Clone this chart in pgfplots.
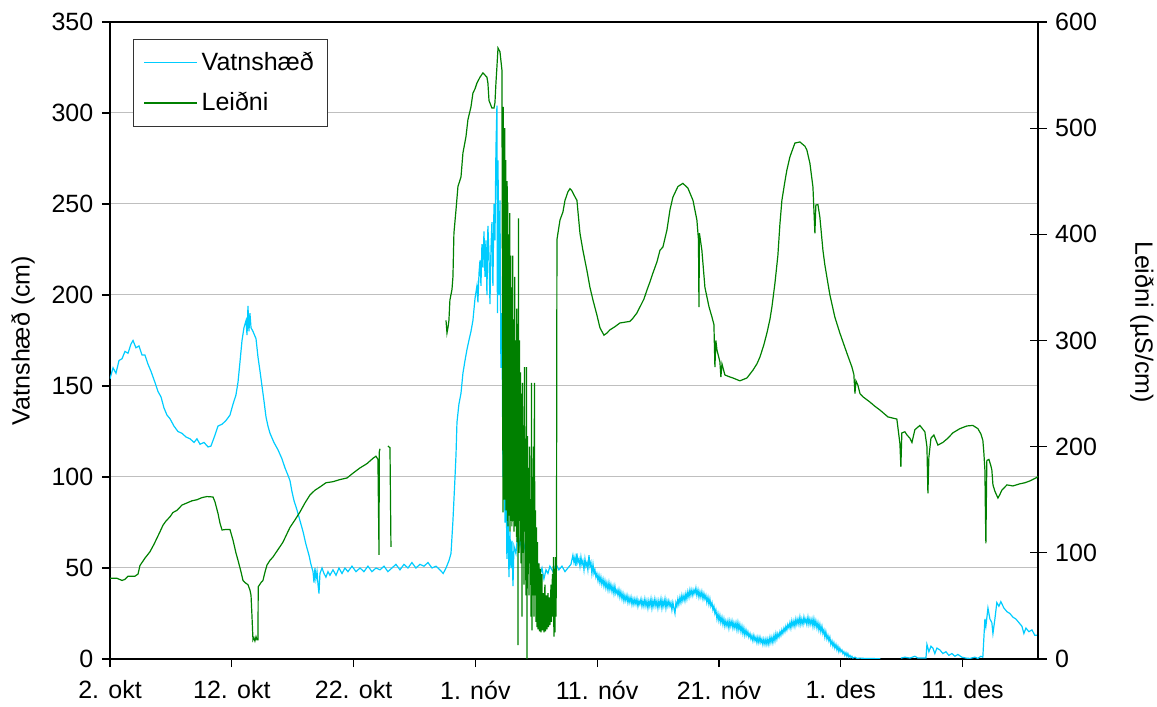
\documentclass[border=0pt]{standalone}
\usepackage{fontspec}
\setmainfont{Liberation Sans}
\usepackage{pgfplots}
\pgfplotsset{compat=1.18}
\definecolor{vatn}{RGB}{0,204,255}
\definecolor{leid}{RGB}{0,128,0}
\newcommand{\lblfont}{\fontsize{12.5bp}{15bp}\selectfont}
\begin{document}
\lblfont
\begin{tikzpicture}
% days counted from 2. okt
\pgfplotsset{
  base/.style={
    scale only axis, width=464bp, height=318.5bp,
    xmin=0, xmax=76.2,
    unbounded coords=jump,
    /pgf/number format/assume math mode=true,
    ticklabel style={font=\lblfont},
    label style={font=\lblfont},
    tick style={black, line width=0.6bp},
  }
}
\begin{axis}[base,
  ymin=0, ymax=350, ytick={0,50,...,350},
  xtick={0,10,...,70},
  xticklabels={2. okt,12. okt,22. okt,1. nóv,11. nóv,21. nóv,1. des,11. des},
  xticklabel style={yshift=-2.5bp},
  xtick pos=bottom, ytick pos=left, tick align=outside,
  major tick length=4bp,
  axis line style={line width=1bp},
  ymajorgrids, grid style={black!25, line width=0.5bp},
  ylabel={Vatnshæð (cm)},
  ylabel style={at={(axis description cs:-0.0937,0.5)}, anchor=center},
  legend style={at={(axis description cs:0.0248,0.973)}, anchor=north west,
    draw=black!80, line width=0.5bp, fill=white, inner xsep=5bp, inner ysep=4bp,
    row sep=5bp, font=\lblfont, cells={anchor=west}},
  legend image code/.code={\draw[#1, line width=0.6bp] (0bp,0bp) -- (26.5bp,0bp);},
]
\addplot[vatn, line width=0.6bp] coordinates {
(0,154) (0.25,160) (0.49,157) (0.74,164) (0.99,165) (1.23,169) (1.48,168) (1.72,173) (1.89,175)
(2.13,171) (2.38,172) (2.63,167) (2.87,167) (3.12,162) (3.37,158) (3.69,152) (3.94,147) (4.19,144)
(4.43,138) (4.68,134) (4.93,132) (5.25,128) (5.58,125) (5.91,124) (6.24,122) (6.57,121) (6.90,119)
(7.14,121) (7.39,118) (7.72,119) (8.05,116.5) (8.29,117) (8.62,123) (8.87,128) (9.20,129) (9.52,131)
(9.85,134) (10.10,140) (10.34,145) (10.51,152) (10.67,163) (10.84,175) (11.00,182) (11.17,186)
(11.25,178) (11.33,194) (11.41,180) (11.49,190) (11.58,182) (11.74,180) (11.99,176) (12.15,166)
(12.32,158) (12.48,150) (12.64,142) (12.81,133) (12.97,128) (13.14,124) (13.46,119) (13.79,115)
(14.12,110) (14.37,105) (14.61,101) (14.78,98) (14.94,92) (15.11,87) (15.35,82) (15.60,76) (15.85,70)
(16.09,63) (16.34,57) (16.50,52) (16.67,48) (16.75,42) (16.83,50) (16.91,44) (17.00,48) (17.08,41)
(17.16,36) (17.24,47) (17.41,50) (17.57,47) (17.73,45) (17.90,48) (18.06,46) (18.31,49) (18.56,46)
(18.80,50) (19.05,47) (19.29,50) (19.54,48) (19.87,51) (20.20,48) (20.53,50) (20.85,48) (21.18,51)
(21.51,48) (21.84,50) (22.17,49) (22.50,51) (22.82,48) (23.15,50) (23.48,52) (23.81,49) (24.14,52)
(24.47,50) (24.79,53) (25.12,50) (25.45,52) (25.78,51) (26.11,53) (26.44,50) (26.77,51) (27.09,49)
(27.36,47) (27.59,50) (27.83,54) (28.00,58) (28.16,76) (28.33,100) (28.41,112) (28.49,130) (28.65,140)
(28.82,146) (28.98,157) (29.15,164) (29.31,170) (29.47,175) (29.64,180) (29.80,186) (29.97,198)
(30.13,205) (30.21,196) (30.30,212) (30.38,219) (30.46,205) (30.54,228) (30.62,215) (30.71,235)
(30.79,210) (30.87,230) (30.95,200) (31.03,238) (31.12,222) (31.20,195) (31.28,225) (31.36,240)
(31.44,205) (31.53,250) (31.61,230) (31.69,280) (31.77,304) (31.81,190) (31.86,274) (31.94,200)
(32.02,252) (32.10,160) (32.18,190) (32.27,100) (32.35,140) (32.43,75) (32.51,110) (32.59,55)
(32.68,80) (32.76,45) (32.84,70) (32.92,50) (33.00,65) (33.09,40) (33.17,62) (33.33,58) (33.50,70)
(33.66,62) (33.83,68) (33.99,60) (34.15,66) (34.32,58) (34.48,62) (34.65,56) (34.81,58) (34.98,50)
(35.14,52) (35.30,46) (35.47,50) (35.63,44) (35.80,49) (35.96,47) (36.12,51) (36.37,48) (36.62,52)
(36.86,49) (37.11,51) (37.36,48) (37.60,50) (37.85,52)
(38.01,57) (38.10,53) (38.18,56) (38.26,51) (38.34,58) (38.42,53) (38.51,55) (38.59,51) (38.67,56)
(38.75,52) (38.83,54) (38.92,49) (39.00,55) (39.08,51) (39.16,53) (39.24,49) (39.33,57) (39.41,51)
(39.49,53) (39.57,47) (39.66,52) (39.74,47) (39.82,49) (39.90,45) (39.98,47) (40.07,43) (40.15,46)
(40.23,42) (40.31,45) (40.39,41) (40.48,44) (40.56,40) (40.64,43) (40.72,39) (40.80,42) (40.89,38)
(40.97,42) (41.05,38) (41.13,41) (41.22,37) (41.30,40) (41.38,36) (41.46,40) (41.54,36) (41.63,38)
(41.71,35) (41.79,38) (41.87,34) (41.95,37) (42.04,33) (42.12,36) (42.20,32) (42.28,35) (42.36,32)
(42.45,35) (42.53,31) (42.61,34) (42.69,31) (42.78,34) (42.86,30) (42.94,33) (43.02,30) (43.10,33)
(43.19,30) (43.27,33) (43.35,29) (43.43,32) (43.51,30) (43.60,33) (43.68,29) (43.76,32) (43.84,29)
(43.92,33) (44.01,29) (44.09,32) (44.17,28) (44.25,32) (44.33,29) (44.42,33) (44.50,28) (44.58,32)
(44.66,29) (44.74,33) (44.83,29) (44.91,32) (44.99,28) (45.07,32) (45.15,29) (45.24,33) (45.32,28)
(45.40,32) (45.48,29) (45.57,33) (45.65,28) (45.73,32) (45.81,29) (45.89,32) (45.98,29) (46.06,31)
(46.14,27) (46.22,31) (46.30,28) (46.39,25) (46.47,31) (46.55,29) (46.63,33) (46.71,30) (46.80,34)
(46.88,31) (46.96,35) (47.04,32) (47.13,35) (47.21,32) (47.29,36) (47.37,33) (47.45,37) (47.54,34)
(47.62,38) (47.70,35) (47.78,38) (47.86,35) (47.95,38) (48.03,36) (48.11,39) (48.19,35) (48.28,38)
(48.36,34) (48.44,37) (48.52,34) (48.60,37) (48.69,33) (48.77,36) (48.85,33) (48.93,35) (49.01,31)
(49.10,34) (49.18,30) (49.26,33) (49.34,29) (49.43,31) (49.51,27) (49.59,29) (49.67,25) (49.75,27)
(49.84,22) (49.92,25)
(50.00,21) (50.08,24) (50.16,20) (50.25,23) (50.33,19) (50.41,22) (50.49,18) (50.57,21) (50.66,18)
(50.74,21) (50.82,17) (50.90,21) (50.98,18) (51.07,21) (51.15,17) (51.23,20) (51.31,17) (51.40,20)
(51.48,16) (51.56,20) (51.64,16) (51.72,19) (51.81,15) (51.89,18) (51.97,14) (52.05,17) (52.13,13)
(52.22,16) (52.30,13) (52.38,15) (52.46,12) (52.55,14) (52.63,11) (52.71,13) (52.79,10) (52.87,13)
(52.96,10) (53.04,12) (53.12,9) (53.20,12) (53.28,9) (53.37,12) (53.45,9) (53.53,11) (53.61,8)
(53.69,11) (53.78,8) (53.86,11) (53.94,8)
(54.02,11) (54.10,8) (54.19,12) (54.27,9) (54.35,12) (54.43,9) (54.52,13) (54.60,10) (54.68,14)
(54.76,11) (54.84,14) (54.93,12) (55.01,15) (55.09,13) (55.17,16) (55.25,14) (55.34,17) (55.42,15)
(55.50,18) (55.58,16) (55.66,19) (55.75,17) (55.83,20) (55.91,17) (55.99,21) (56.08,18) (56.16,21)
(56.24,18) (56.32,22) (56.40,19) (56.49,22) (56.57,19) (56.65,23) (56.73,19) (56.81,22) (56.90,19)
(56.98,23) (57.06,20) (57.14,22) (57.22,19) (57.31,23) (57.39,19) (57.47,22) (57.55,19) (57.64,22)
(57.72,18) (57.80,22) (57.88,18) (57.96,21) (58.05,17) (58.13,20) (58.21,16) (58.29,19) (58.37,15)
(58.46,18) (58.54,14) (58.62,16) (58.70,12) (58.78,15) (58.87,11) (58.95,13) (59.03,10) (59.11,12)
(59.19,8) (59.28,10) (59.36,7) (59.44,9) (59.52,6) (59.61,8) (59.69,5) (59.77,7) (59.85,4) (59.93,6)
(60.02,4) (60.10,5) (60.18,3) (60.26,4) (60.34,2) (60.43,3.5) (60.51,1.5) (60.59,3) (60.67,1)
(60.76,2) (60.84,0.8) (60.92,1.5) (61.00,0.5) (61.17,1) (61.33,0.3) (61.58,0.5) (62.00,0.3)
(63.00,0.2) (63.25,0.2) (63.30,nan)
(64.94,0.5) (65.27,1) (65.68,0.5) (66.09,1.5) (66.34,0.5) (67.00,0.5) (67.08,8) (67.24,4) (67.41,7)
(67.57,6) (67.73,3) (67.90,6) (68.14,5) (68.39,3) (68.64,4) (68.88,2) (69.13,3) (69.38,1.5)
(69.62,2.5) (69.95,1) (70.28,0.5) (70.61,0.3) (71.02,1) (71.26,0.3) (71.51,1.5) (71.67,1)
(71.84,22) (71.92,18) (72.09,28) (72.25,22) (72.41,20) (72.50,14) (72.66,22) (72.82,31) (72.99,29)
(73.15,31.5) (73.40,28) (73.65,26) (73.89,25) (74.14,23) (74.38,22) (74.63,20) (74.88,18)
(75.04,14) (75.21,17) (75.45,15) (75.70,16) (75.94,13) (76.19,13)
};
\addlegendentry{Vatnshæð}
\addlegendimage{leid, line width=0.6bp}
\addlegendentry{Leiðni}
\end{axis}
\begin{axis}[base,
  ymin=0, ymax=600, ytick={0,100,...,600},
  axis x line=none, axis y line*=right,
  tick align=center, major tick length=8.5bp,
  axis line style={line width=1bp},
  ylabel={Leiðni (µS/cm)},
  ylabel style={at={(axis description cs:1.1121,0.529)}, anchor=center, rotate=180},
]
\addplot[leid, line width=0.6bp] coordinates {
(0,76) (0.57,76) (0.99,74) (1.23,75) (1.48,78) (2.05,78) (2.30,80) (2.46,88) (2.87,95) (3.28,101)
(3.61,108) (3.86,114) (4.11,120) (4.35,126) (4.60,130) (4.93,134) (5.17,138) (5.50,140) (5.91,145)
(6.32,147) (6.73,149) (7.14,150) (7.55,152) (7.96,153) (8.46,152.6) (8.62,148) (8.87,137) (9.03,128)
(9.20,121.5) (9.52,122) (9.85,122) (10.10,112) (10.34,100) (10.51,93) (10.76,82) (10.92,74)
(11.08,72) (11.33,70) (11.49,65) (11.58,60) (11.66,40) (11.74,18) (11.82,20) (11.90,17) (11.99,21)
(12.07,18) (12.15,18) (12.17,68) (12.40,72) (12.56,74) (12.73,82) (12.89,88.5) (13.14,93)
(13.38,96) (13.79,103) (14.20,110) (14.53,118) (14.78,124) (15.19,131) (15.60,138.5) (16.01,147)
(16.42,154.5) (16.83,159) (17.24,162) (17.73,166) (18.31,167) (18.88,169) (19.46,170.5) (19.95,175)
(20.53,180) (21.10,184) (21.59,189) (21.84,191) (22.00,188) (22.09,98) (22.11,195) (22.17,198)
(22.30,nan)
(22.82,200.6) (22.99,199) (23.07,105.5) (23.10,nan)
(27.59,319) (27.67,307) (27.75,312) (27.83,319) (27.91,338) (28.08,348) (28.16,360) (28.24,401)
(28.41,423) (28.57,445) (28.82,454) (28.98,476.6) (29.23,492) (29.39,508) (29.64,520) (29.80,533)
(29.97,537) (30.13,542.5) (30.38,548) (30.62,552) (30.79,550) (30.95,548) (31.03,542.5) (31.12,526)
(31.36,519) (31.53,519) (31.61,524) (31.69,542.5) (31.77,557.6) (31.86,575.5) (32.02,572)
(32.18,555) (32.27,138)
(32.29,520) (32.31,180) (32.33,500) (32.35,200) (32.37,480) (32.39,150) (32.41,500) (32.43,150)
(32.45,440) (32.47,190) (32.49,470) (32.51,140) (32.53,400) (32.55,170) (32.57,410) (32.59,220)
(32.61,450) (32.64,130) (32.66,430) (32.68,125) (32.70,370) (32.72,150) (32.74,390) (32.76,160)
(32.78,400) (32.80,135) (32.82,420) (32.84,120) (32.86,340) (32.88,150) (32.90,380) (32.92,180)
(32.94,330) (32.96,130) (32.98,350) (33.00,125) (33.02,300) (33.05,140) (33.07,380) (33.09,200)
(33.11,290) (33.13,130) (33.15,320) (33.17,120) (33.19,300) (33.21,140) (33.23,360) (33.25,130)
(33.27,280) (33.29,125) (33.31,300) (33.33,150) (33.35,260) (33.37,115) (33.40,330) (33.42,110)
(33.44,250) (33.46,120) (33.48,290) (33.50,13) (33.54,415) (33.58,100)
(33.62,300) (33.66,130) (33.70,270) (33.74,90) (33.79,250) (33.83,40) (33.87,260) (33.91,100)
(33.95,220) (33.99,70) (34.03,275) (34.07,120) (34.11,200) (34.15,60) (34.20,275) (34.24,0)
(34.28,210) (34.32,80) (34.36,180) (34.40,60) (34.44,200) (34.48,90) (34.52,150) (34.57,40)
(34.61,260) (34.65,27) (34.69,150) (34.73,60) (34.77,200) (34.81,40) (34.85,260) (34.89,60)
(34.94,140) (34.98,35) (35.02,124) (35.06,30) (35.10,110) (35.14,28) (35.22,90) (35.26,26)
(35.34,85) (35.39,25) (35.47,80) (35.51,27) (35.59,62) (35.63,25) (35.71,70) (35.76,26) (35.84,60)
(35.88,28) (35.96,62) (36.00,30) (36.08,58) (36.12,32) (36.21,70) (36.25,35) (36.33,80) (36.37,40)
(36.41,96) (36.45,21) (36.49,85) (36.54,25) (36.58,96) (36.62,40) (36.66,90)
(36.70,395) (36.78,401) (36.95,413.5) (37.19,421) (37.36,432) (37.60,440) (37.77,443) (37.93,441)
(38.10,437) (38.34,432) (38.59,401) (38.83,385) (39.16,366) (39.41,350) (39.66,338) (39.98,324)
(40.23,312) (40.56,305) (40.80,307) (41.05,310) (41.46,313) (41.87,316.5) (42.69,318) (42.94,321)
(43.27,326) (43.51,331.5) (43.84,339) (44.09,347.5) (44.33,355) (44.58,363.5) (44.91,374) (45.16,385)
(45.40,388) (45.73,404) (45.98,423) (46.22,435) (46.63,445) (47.04,448) (47.45,443.6) (47.87,432)
(48.19,413.5) (48.32,395) (48.36,331.5) (48.40,401) (48.60,385) (48.85,350) (49.18,332) (49.43,322)
(49.59,315) (49.67,275) (49.75,300) (49.84,291) (50.08,280) (50.16,265.6) (50.25,278) (50.49,267.5)
(50.82,266) (51.15,264.7) (51.72,262) (52.30,264.7) (52.79,272) (53.12,278) (53.37,284.5) (53.69,296)
(53.94,307) (54.19,320) (54.35,331.5) (54.60,354) (54.84,380) (55.01,410) (55.17,432) (55.42,450)
(55.58,460.6) (55.83,473) (56.24,486) (56.65,487) (57.06,483) (57.22,479.4) (57.47,467) (57.72,444.6)
(57.88,401) (57.96,427.6) (58.13,428) (58.29,416) (58.54,385) (58.70,371) (59.11,343) (59.52,322)
(59.93,307) (60.51,288) (60.92,275) (61.08,268) (61.17,250) (61.25,262) (61.41,258) (61.58,250)
(61.82,247) (62.40,242) (62.81,238) (63.22,234.5) (63.88,228) (64.61,226) (64.86,203) (64.94,181)
(65.02,213) (65.27,214) (65.44,211) (65.68,208) (65.85,204) (66.09,216) (66.50,220) (66.91,214)
(67.08,200) (67.16,156) (67.24,190) (67.41,208) (67.65,211) (67.98,201.5) (68.39,204) (68.80,208)
(69.21,213) (69.79,217) (70.36,219.5) (70.85,220) (71.26,217) (71.51,212) (71.67,206) (71.75,195)
(71.84,178) (71.88,140) (71.92,109) (71.96,150) (72.00,187) (72.17,188) (72.33,182) (72.41,178)
(72.50,164) (72.66,158) (72.91,151.6) (73.07,155) (73.23,159) (73.65,164) (74.14,163) (74.71,165)
(75.12,166) (75.53,167.7) (76.11,171) (76.19,172)
};
\end{axis}
\pgfresetboundingbox
\path[use as bounding box] (-55bp,-24bp) rectangle (523.5bp,329.5bp);
\end{tikzpicture}
\end{document}
